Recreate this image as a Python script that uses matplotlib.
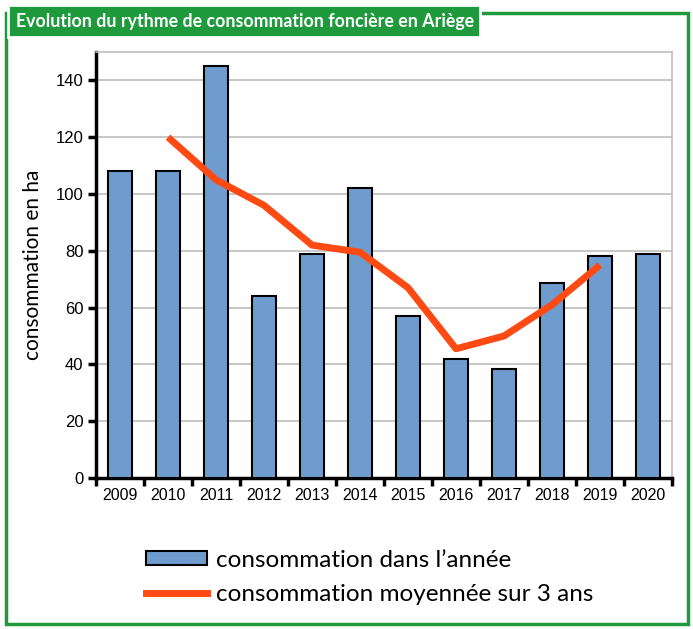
import matplotlib.pyplot as plt
from matplotlib.patches import Rectangle, Patch
from matplotlib.lines import Line2D
import numpy as np

# -------------------------------
# Data
# -------------------------------
years = ["2009", "2010", "2011", "2012", "2013", "2014",
         "2015", "2016", "2017", "2018", "2019", "2020"]
conso_annee = [108, 108, 145, 64, 79, 102, 57, 42, 38.5, 68.5, 78, 79]
moyenne_years = ["2010", "2011", "2012", "2013", "2014",
                 "2015", "2016", "2017", "2018", "2019"]
moyenne_3ans = [120, 105, 96, 82, 79.5, 67, 45.5, 50, 61, 75]

plt.rcParams["font.family"] = ["Lato", "DejaVu Sans"]
tick_font = ["Liberation Sans", "DejaVu Sans"]

fig = plt.figure(figsize=(6.93, 6.29), dpi=100)
ax = fig.add_axes([96 / 693, 1 - 478 / 629, 576 / 693, 426 / 629])

x = np.arange(len(years))
ax.bar(x, conso_annee, width=0.5, color="#6f9ccf",
       edgecolor="black", linewidth=1.5, zorder=3)

xm = [years.index(y) for y in moyenne_years]
ax.plot(xm, moyenne_3ans, color="#ff4a14", linewidth=5,
        solid_capstyle="butt", zorder=4)

ax.set_xlim(-0.5, len(years) - 0.5)
ax.set_ylim(0, 150)
ax.set_yticks(range(0, 141, 20))
ax.set_yticklabels([str(v) for v in range(0, 141, 20)],
                   fontsize=12, family=tick_font)
ax.yaxis.grid(True, color="#bdbdbd", linewidth=1.2, zorder=0)

# ticks between categories, labels at centres
ax.set_xticks(np.arange(-0.5, len(years), 1))
ax.set_xticklabels([])
ax.set_xticks(x, minor=True)
ax.set_xticklabels(years, minor=True, fontsize=11.5, family=tick_font)
ax.tick_params(axis="x", which="minor", length=0, pad=7)
ax.tick_params(axis="x", which="major", length=6, width=2.5, direction="out")
ax.tick_params(axis="y", length=6, width=2.5, direction="out", pad=3)

for side in ["left", "bottom"]:
    ax.spines[side].set_linewidth(2.5)
for side in ["top", "right"]:
    ax.spines[side].set_color("#bdbdbd")
    ax.spines[side].set_linewidth(1.2)

ax.set_ylabel("consommation en ha", fontsize=15, labelpad=9)

# -------------------------------
# Frame and title
# -------------------------------
green = "#1e9a3c"
fig.patches.append(Rectangle((6 / 693, 5 / 629), 682 / 693, 611 / 629,
                             transform=fig.transFigure, fill=False,
                             edgecolor=green, linewidth=2.5))
fig.patches.append(Rectangle((8 / 693, 1 - 37 / 629), 472 / 693, 32 / 629,
                             transform=fig.transFigure, facecolor=green,
                             edgecolor="white", linewidth=2))
fig.text(16 / 693, 1 - 21 / 629,
         "Evolution du rythme de consommation foncière en Ariège",
         color="white", fontsize=12.8, fontweight="bold", va="center")

# -------------------------------
# Legend
# -------------------------------
handles = [
    Patch(facecolor="#6f9ccf", edgecolor="black", linewidth=1.5),
    Line2D([0], [0], color="#ff4a14", linewidth=5),
]
fig.legend(handles, ["consommation dans l’année",
                     "consommation moyennée sur 3 ans"],
           loc="upper left", bbox_to_anchor=(124 / 693, 1 - 528 / 629),
           frameon=False, fontsize=17.5, handlelength=2.5, handleheight=0.5,
           labelspacing=0.55, handletextpad=0.38)

fig.savefig("out.png", dpi=100)
